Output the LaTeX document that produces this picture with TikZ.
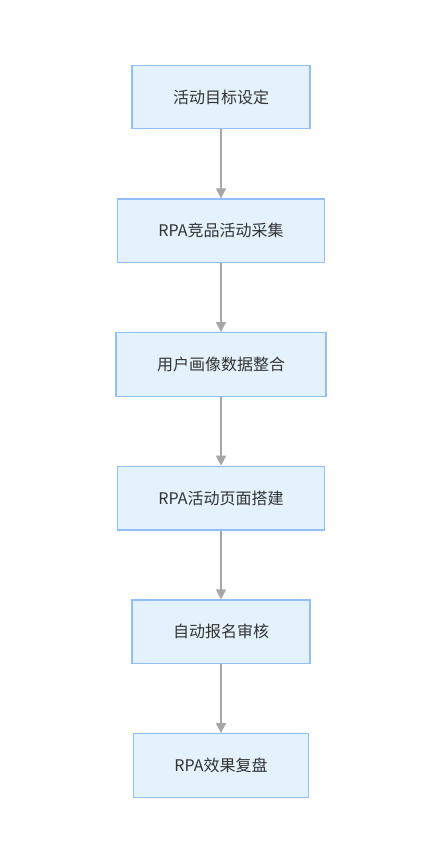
\documentclass[tikz,border=0pt]{standalone}
\usepackage{fontspec}
\setmainfont{Noto Sans CJK SC}
\usepackage{tikz}
\usetikzlibrary{positioning, arrows.meta}

\definecolor{boxfill}{HTML}{E3F2FD}
\definecolor{boxline}{HTML}{90BFF9}
\definecolor{boxtext}{HTML}{333333}
\definecolor{flowline}{HTML}{A6A6A6}

\begin{document}
\begin{tikzpicture}[
    x=1pt, y=1pt,
    stagebox/.style={rectangle, draw=boxline, line width=1.3pt, fill=boxfill, minimum height=63.5pt, inner xsep=41pt, align=center, text=boxtext, font=\fontsize{16}{19}\selectfont},
    flow_arrow/.style={-{Triangle[length=10pt, width=10pt]}, line width=1.3pt, flowline},
    node distance=68.9pt
]
    \useasboundingbox (0,0) rectangle (440,-855);

    % Stages
    \node[stagebox] (goal) at (221,-97) {活动目标设定};
    \node[stagebox, below=of goal] (collect) {RPA竞品活动采集};
    \node[stagebox, below=of collect] (profile) {用户画像数据整合};
    \node[stagebox, below=of profile] (page) {RPA活动页面搭建};
    \node[stagebox, below=of page] (audit) {自动报名审核};
    \node[stagebox, below=of audit] (review) {RPA效果复盘};

    % Flow arrows
    \draw[flow_arrow] (goal) -- (collect);
    \draw[flow_arrow] (collect) -- (profile);
    \draw[flow_arrow] (profile) -- (page);
    \draw[flow_arrow] (page) -- (audit);
    \draw[flow_arrow] (audit) -- (review);
\end{tikzpicture}
\end{document}
